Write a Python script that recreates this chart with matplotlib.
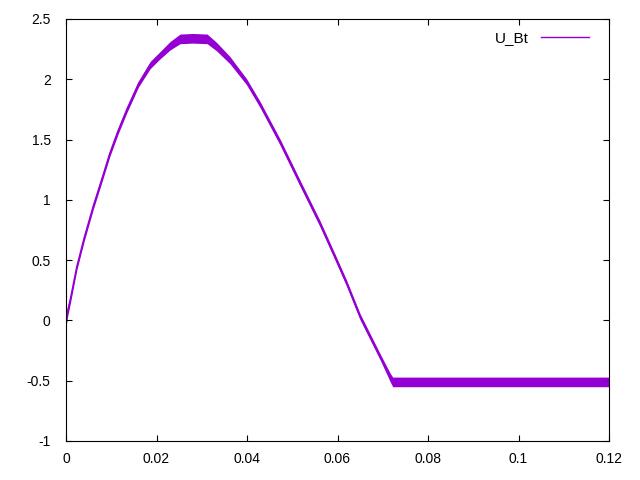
import matplotlib
matplotlib.use("Agg")
import matplotlib.pyplot as plt
import numpy as np

plt.rcParams['font.family'] = ['Liberation Sans', 'DejaVu Sans']

# centre line of the signal
t = [0.0000, 0.0004, 0.0010, 0.0024, 0.0040, 0.0060, 0.0080, 0.0097, 0.0115,
     0.0134, 0.0160, 0.0186, 0.0208, 0.0230, 0.0252, 0.0280, 0.0312, 0.0333,
     0.0362, 0.0399, 0.0429, 0.0473, 0.0517, 0.0561, 0.0594, 0.0620, 0.0650,
     0.0694, 0.0716, 0.0722, 0.0800, 0.0900, 0.1000, 0.1100, 0.1200]
u_bt = [0.00, 0.08, 0.18, 0.445, 0.68, 0.943, 1.18, 1.386, 1.57,
        1.744, 1.96, 2.118, 2.20, 2.278, 2.335, 2.340, 2.335, 2.27,
        2.16, 1.98, 1.79, 1.48, 1.14, 0.805, 0.53, 0.31, 0.03,
        -0.30, -0.47, -0.51, -0.51, -0.51, -0.51, -0.51, -0.51]
# half height of the ripple band
ripple = [0.05, 0.04, 0.03, 0.025, 0.025, 0.025, 0.025, 0.025, 0.025,
          0.025, 0.025, 0.03, 0.03, 0.035, 0.04, 0.04, 0.04, 0.035,
          0.03, 0.025, 0.025, 0.025, 0.025, 0.025, 0.025, 0.025, 0.025,
          0.025, 0.035, 0.04, 0.04, 0.04, 0.04, 0.04, 0.04]

xticks = [0, 0.02, 0.04, 0.06, 0.08, 0.1, 0.12]
xtick_labels = ["0", "0.02", "0.04", "0.06", "0.08", "0.1", "0.12"]
yticks = [-1, -0.5, 0, 0.5, 1, 1.5, 2, 2.5]
ytick_labels = ["-1", "-0.5", "0", "0.5", "1", "1.5", "2", "2.5"]

color = '#9400D3'

fig = plt.figure(figsize=(6.4, 4.8), dpi=100)
ax = fig.add_axes([66/640, 39/480, (609-66)/640, (441-19)/480])

tt = np.array(t)
uu = np.array(u_bt)
rr = np.array(ripple)
ax.fill_between(tt, uu - rr, uu + rr, color=color, linewidth=0)
ax.plot(tt, uu, color=color, linewidth=1.2)

ax.set_xlim(0, 0.12)
ax.set_ylim(-1, 2.5)
ax.set_xticks(xticks)
ax.set_xticklabels(xtick_labels)
ax.set_yticks(yticks)
ax.set_yticklabels(ytick_labels)
ax.tick_params(direction='in', length=4.5, width=0.8, top=True, right=True,
               labelsize=10, colors='black')
ax.tick_params(axis='y', pad=11)
ax.tick_params(axis='x', pad=8)
for s in ax.spines.values():
    s.set_linewidth(0.8)

h, = ax.plot([], [], color=color, linewidth=1.0)
ax.legend([h], ['U_Bt'], loc='upper right', frameon=False, markerfirst=False,
          fontsize=11, handlelength=3.1, handletextpad=0.8,
          bbox_to_anchor=(1 - 11/543, 1 - 3/422), borderaxespad=0.2)

fig.savefig('out.png', dpi=100)
